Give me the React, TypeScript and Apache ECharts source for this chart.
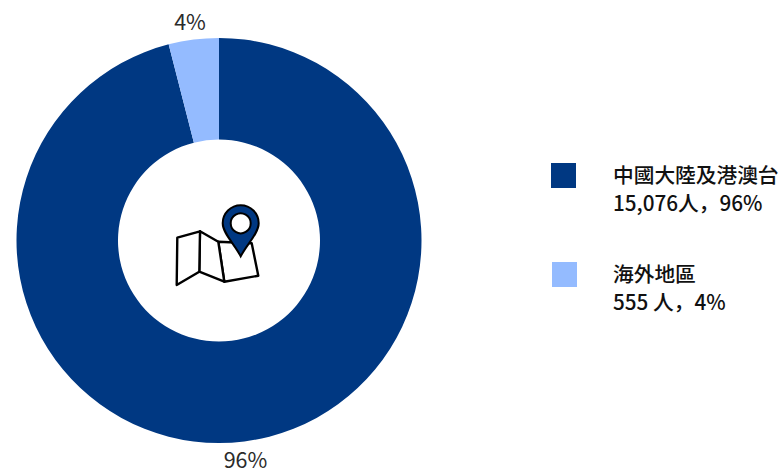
import React, { useEffect, useRef } from "react";
import * as echarts from "echarts";

const categories = ["中國大陸及港澳台", "海外地區"];
const percents = [96, 4];
const legendDetails = ["15,076人，96%", "555 人，4%"];
const colors = ["#003882", "#94BBFF"];
const FONT = '"Noto Sans CJK JP", "Noto Sans", sans-serif';

const leftPanel = [[177.3, 237.7], [200, 231.3], [199.3, 271.7], [176.7, 285]];
const midPanel = [[200, 231.3], [218.3, 241.7], [224.3, 281.7], [199.3, 271.7]];
const rightPanel = [[218.3, 241.7], [251.7, 243.3], [258.3, 275.7], [224.3, 281.7]];

echarts.graphic.registerShape(
  "pin",
  echarts.graphic.extendPath(
    "M-18,0 A18,18 0 1 1 18,0 C18,10 6,21 0,33 C-6,21 -18,10 -18,0 Z",
    {}
  ) as any
);

export default function App() {
  const ref = useRef<HTMLDivElement>(null);
  useEffect(() => {
    const chart = echarts.init(ref.current!, undefined, { renderer: "svg" });
    const panel = (points: number[][]) => ({
      type: "polygon",
      shape: { points },
      style: { fill: "#fff", stroke: "#000", lineWidth: 2.4, lineJoin: "round" },
    });
    const legendItems = categories.flatMap((c, i) => {
      const top = i === 0 ? 163 : 262;
      return [
        {
          type: "rect",
          shape: { x: i === 0 ? 551 : 552, y: top, width: 25, height: 25 },
          style: { fill: colors[i] },
        },
        {
          type: "text",
          x: 613,
          y: top + 10.5,
          style: { text: c, font: `500 20.7px ${FONT}`, fill: "#111", textVerticalAlign: "middle" },
        },
        {
          type: "text",
          x: 613,
          y: top + 39,
          style: { text: legendDetails[i], font: `500 20.7px ${FONT}`, fill: "#111", textVerticalAlign: "middle" },
        },
      ];
    });
    const labelPositions = [
      { x: 245.5, y: 458.5 },
      { x: 190, y: 20.5 },
    ];
    chart.setOption({
      animation: false,
      backgroundColor: "#fff",
      series: [
        {
          type: "pie",
          center: [219, 240.5],
          radius: [101, 202.5],
          startAngle: 90,
          clockwise: true,
          silent: true,
          data: categories.map((name, i) => ({
            name,
            value: percents[i],
            itemStyle: { color: colors[i] },
          })),
          label: {
            show: true,
            position: "outside",
            formatter: (p: any) => `${p.value}%`,
            fontFamily: FONT,
            fontSize: 21.5,
            lineHeight: 18,
            color: "#2b2b2b",
          },
          labelLine: { show: false },
          labelLayout: (p: any) => ({
            ...labelPositions[p.dataIndex],
            align: "center",
            verticalAlign: "middle",
          }),
        },
      ],
      graphic: [
        {
          type: "group",
          children: [
            panel(rightPanel),
            panel(midPanel),
            panel(leftPanel),
            {
              type: "pin",
              x: 240.7,
              y: 223.3,
              style: { fill: "#003882", stroke: "#000", lineWidth: 2 },
            },
            {
              type: "circle",
              shape: { cx: 240.7, cy: 223.3, r: 10 },
              style: { fill: "#fff", stroke: "#000", lineWidth: 2 },
            },
          ],
        },
        ...legendItems,
      ],
    });
    return () => chart.dispose();
  }, []);
  return <div ref={ref} style={{ position: "fixed", left: 0, top: 0, width: 783, height: 470 }} />;
}
